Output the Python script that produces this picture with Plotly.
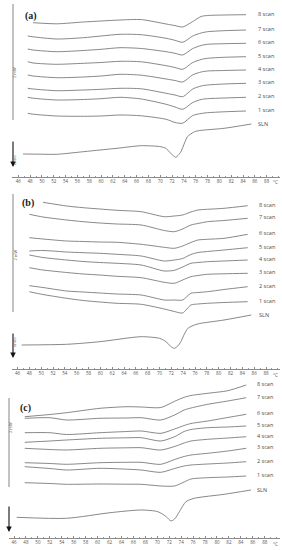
import plotly.graph_objects as go

W, H = 282, 550

TICK_VALS = [46, 48, 50, 52, 54, 56, 58, 60, 62, 64, 66, 68, 70, 72, 74, 76, 78, 80, 82, 84, 86, 88]
TICK_TEXT = ["46", "48", "50", "52", "54", "56", "58", "60", "62", "64", "66", "68",
             "70", "72", "74", "76", "78", "80", "82", "84", "86", "88"]
SCAN_LABELS = ["8 scan", "7 scan", "6 scan", "5 scan", "4 scan", "3 scan", "2 scan", "1 scan"]
PANEL_TAGS = ["(a)", "(b)", "(c)"]

# ---------------- panel (a) : temperature (°C) and heat flow (offset, arb. units)
A_T = [47.6, 48.5, 52.5, 57.0, 60.0, 63.2, 66.8, 71.0, 72.5, 73.8, 75.5, 76.9, 78.0, 80.8, 84.5]
A_8 = [None, 154.3, 153.2, 155, 156, 157, 157.4, 153, 151.4, 150, 155.5, 160.5, 161.5, 162, 162.3]
A_7 = [141, 140.2, 138, 139.3, 141, 142.7, 142.3, 138.7, 136.7, 134.7, 141, 144, 145.3, 146.3, 147]
A_6 = [128, 127, 125.3, 126.5, 127.7, 129.3, 128.5, 125.3, 123.7, 122, 128.5, 131.5, 132.7, 133.3, 133.7]
A_5 = [115.3, 114, 112.7, 113.7, 114.5, 115.7, 115.2, 111.3, 109.5, 107.7, 114.5, 117.5, 118.7, 119.7, 120.3]
A_4 = [102, 101, 99.3, 100, 101, 102.7, 101.8, 98, 96.5, 95, 102.2, 105, 106, 106.5, 107]
A_3 = [88.7, 88, 86.3, 87, 87.7, 88.7, 88.2, 83.7, 82, 80.3, 88, 91, 92, 93, 93.7]
A_2 = [79.7, 78.8, 77, 77.5, 78.3, 79.7, 78, 72.7, 70, 67.7, 74.5, 77.5, 78.3, 79, 79.7]
A_1 = [63.7, 62.8, 61, 60.7, 61, 62, 61.2, 57.7, 54.5, 53.8, 61.5, 63.5, 64.3, 65.2, 66]
A_SLN_T = [46.8, 49.7, 52.5, 57.0, 59.8, 62.7, 66.8, 70.1, 71.0, 71.5, 72.1, 72.6, 73.0, 73.5,
           74.1, 74.6, 75.8, 76.7, 80.8, 85.4]
A_SLN = [23, 22.8, 22.7, 25.3, 27, 28.7, 31.3, 30.3, 28.5, 25.3, 22, 19.7, 21.5, 25.3,
         34, 40.3, 45.3, 46.5, 48.7, 53]

# ---------------- panel (b)
B_T = [48.0, 50.3, 54.3, 57.1, 59.9, 62.8, 66.9, 70.8, 72.5, 73.9, 75.3, 76.5, 78.1, 80.9, 84.9]
B_8 = [None, 166.7, 163, 161.3, 160, 158.7, 157.3, 152.3, 153, 154, 157, 159, 159.7, 160.7, 163.3]
B_7 = [154.7, 152, 149, 147.3, 146, 145, 144, 138.5, 137.3, 140, 144, 145.5, 147.3, 148.5, 150.7]
B_6 = [131.3, 130, 128, 127.5, 127, 126.7, 124.7, 121.7, 120.7, 123, 126.5, 129, 129.7, 130.7, 134.7]
B_5 = [118, 118.5, 117, 116.3, 115.7, 114.7, 113, 108, 109, 110.5, 114.5, 116.5, 117.5, 119, 121.3]
B_4 = [114, 111.5, 109, 107.5, 106.5, 105.7, 104, 98, 98.7, 102, 105.7, 106.5, 107.3, 108, 109]
B_3 = [101.3, 99, 96.5, 95, 94, 92.7, 91.3, 86.7, 85.7, 89, 92.3, 93.5, 94.7, 95.2, 95.7]
B_2 = [83.3, 81.5, 78, 77, 76, 75, 74, 69, 69, 69, 75.7, 76.5, 77.3, 79.5, 82.3]
B_1 = [77.3, 74.5, 70.7, 68.5, 67, 65.7, 64.7, 60, 57.5, 56, 64, 65, 65.7, 66.5, 67.3]
B_SLN_T = [46.7, 54.3, 59.9, 66.9, 70.0, 70.8, 71.4, 71.9, 72.5, 73.1, 73.6, 74.2, 74.8,
           75.9, 76.8, 80.9, 85.5]
B_SLN = [24, 24.7, 27.3, 32.3, 30.7, 28.5, 25.7, 22.5, 20.7, 23, 27.3, 35, 40.7,
         44, 45.5, 49, 54]

# ---------------- panel (c)
C_T = [47.8, 52.0, 54.8, 60.4, 64.9, 67.3, 70.6, 72.9, 74.5, 75.65, 78.45, 81.8, 84.9]
C_8 = [121.3, 123.5, 125.3, 129.7, 131.3, 131, 130.5, 136.7, 140.7, 142.5, 144.7, 147.3, 153]
C_7 = [119.7, 120.3, 118, 119.7, 120, 120.3, 118, 123, 128, 130, 133.7, 137, 140.3]
C_6 = [105.3, 105.3, 103.5, 105.3, 106.5, 107, 104.7, 109, 112.5, 114.5, 117, 120.5, 123.7]
C_5 = [95.7, 97, 98, 99.7, 100.2, 100.3, 97, 101.3, 106.5, 108.5, 110.3, 111, 112]
C_4 = [89.7, 88.5, 88, 89.7, 90.2, 90.3, 88, 91.5, 95, 97, 98.7, 100, 101.3]
C_3 = [75.3, 74.5, 73.7, 75.3, 75.7, 75.7, 73.7, 78.5, 81.5, 83, 84.7, 87, 89.7]
C_2 = [71.3, 69.5, 68, 69.7, 68.8, 68, 65.7, 69.5, 72, 73, 74, 75, 76.3]
C_1 = [55.3, 54.5, 53.7, 54, 53.8, 53.7, 52, 52, 56, 59, 60.3, 61, 62]
C_SLN_T = [46.45, 54.8, 62.1, 67.3, 70.1, 71.5, 72.3, 72.9, 73.7, 74.8, 76.2, 81.2, 85.7]
C_SLN = [20.7, 19.7, 25.3, 28, 26.3, 21.3, 17, 19, 26.3, 36.3, 39.7, 43.7, 48]

LINE = "#6a6a6a"
TXT = "#4a4a4a"


def py(px):
    return 1 - px / H


def pxx(px):
    return px / W


panels = [
    dict(T=A_T, scans=[A_8, A_7, A_6, A_5, A_4, A_3, A_2, A_1], sT=A_SLN_T, s=A_SLN,
         xr=[44.935, 90.25], xd=[12, 280], yd=[0, 177], lab_x=256, tag=(31, 16),
         bar=(13, 4, 120), mw=(10, 65), arr=(13, 140, 167), endo=(9.5, 153)),
    dict(T=B_T, scans=[B_8, B_7, B_6, B_5, B_4, B_3, B_2, B_1], sT=B_SLN_T, s=B_SLN,
         xr=[45.07, 90.36], xd=[12, 280], yd=[185, 369], lab_x=257, tag=(28, 203),
         bar=(13, 194, 312), mw=(10, 255), arr=(13, 332, 358), endo=(9.5, 342)),
    dict(T=C_T, scans=[C_8, C_7, C_6, C_5, C_4, C_3, C_2, C_1], sT=C_SLN_T, s=C_SLN,
         xr=[45.16, 90.56], xd=[9, 280], yd=[380, 538], lab_x=254.5, tag=(25, 408),
         bar=(9, 398, 487), mw=(6, 435), arr=(9, 505, 532), endo=None),
]

fig = go.Figure()
layout = {}
shapes = []
annotations = []

for i, p in enumerate(panels):
    n = "" if i == 0 else str(i + 1)
    xa, ya = "x" + n, "y" + n
    line_style = dict(color=LINE, width=0.8, shape="spline", smoothing=0.7)
    for name, vals in zip(SCAN_LABELS, p["scans"]):
        fig.add_trace(go.Scatter(x=p["T"], y=vals, mode="lines", line=line_style,
                                 xaxis=xa, yaxis=ya, showlegend=False, hoverinfo="skip"))
        annotations.append(dict(x=pxx(p["lab_x"]), xref="paper", y=vals[-1] + 1, yref=ya,
                                text=name, showarrow=False, xanchor="left", yanchor="middle",
                                font=dict(size=5.5, color=TXT, family="Open Sans")))
    fig.add_trace(go.Scatter(x=p["sT"], y=p["s"], mode="lines", line=line_style,
                             xaxis=xa, yaxis=ya, showlegend=False, hoverinfo="skip"))
    annotations.append(dict(x=pxx(p["lab_x"]), xref="paper", y=p["s"][-1] + 0.5, yref=ya,
                            text="SLN", showarrow=False, xanchor="left", yanchor="middle",
                            font=dict(size=5.5, color=TXT, family="Open Sans")))

    y0, y1 = p["yd"]
    layout["xaxis" + n] = dict(
        domain=[pxx(p["xd"][0]), pxx(p["xd"][1])], range=p["xr"], anchor=ya,
        showline=True, linecolor="#8a8a8a", linewidth=0.8, showgrid=False, zeroline=False,
        tickmode="array", tickvals=TICK_VALS, ticktext=TICK_TEXT,
        ticks="inside", ticklen=2.5, tickwidth=0.6, tickcolor="#8a8a8a",
        minor=dict(dtick=1, ticks="inside", ticklen=1.5, tickwidth=0.5, tickcolor="#9a9a9a"),
        tickfont=dict(size=4.5, color="#555555", family="Open Sans"), fixedrange=True)
    layout["yaxis" + n] = dict(domain=[py(y1), py(y0)], range=[0, y1 - y0], visible=False,
                               fixedrange=True)

    # degree label at axis end
    annotations.append(dict(x=pxx(275.5), xref="paper", y=py(y1 + 5.5), yref="paper",
                            text="°C", showarrow=False, xanchor="center", yanchor="middle",
                            font=dict(size=4.5, color="#555555", family="Open Sans")))
    # panel tag
    annotations.append(dict(x=pxx(p["tag"][0]), xref="paper", y=py(p["tag"][1]), yref="paper",
                            text="<b>" + PANEL_TAGS[i] + "</b>", showarrow=False,
                            xanchor="center", yanchor="middle",
                            font=dict(size=10, color="#222222", family="Liberation Serif")))
    # 2 mW scale bar
    bx, by0, by1 = p["bar"]
    shapes.append(dict(type="line", xref="paper", yref="paper", x0=pxx(bx), x1=pxx(bx),
                       y0=py(by0), y1=py(by1), line=dict(color="#777777", width=0.9)))
    annotations.append(dict(x=pxx(p["mw"][0]), xref="paper", y=py(p["mw"][1]), yref="paper",
                            text="2 mW", textangle=-90, showarrow=False,
                            font=dict(size=4, color="#555555", family="Open Sans")))
    # endo arrow
    ax_, ay0, ay1 = p["arr"]
    annotations.append(dict(x=pxx(ax_), xref="paper", y=py(ay1), yref="paper", text="",
                            showarrow=True, arrowhead=2, arrowsize=1, arrowwidth=1.1,
                            arrowcolor="#111111", ax=0, ay=-(ay1 - ay0), axref="pixel",
                            ayref="pixel"))
    if p["endo"] is not None:
        annotations.append(dict(x=pxx(p["endo"][0]), xref="paper", y=py(p["endo"][1]),
                                yref="paper", text="endo", textangle=-90, showarrow=False,
                                font=dict(size=4, color="#555555", family="Open Sans")))

fig.update_layout(width=W, height=H, margin=dict(l=0, r=0, t=0, b=0),
                  paper_bgcolor="white", plot_bgcolor="white",
                  shapes=shapes, annotations=annotations, **layout)

fig.write_html("out.html", config={"displayModeBar": False},
               post_script="document.body.style.margin='0';document.body.style.overflow='hidden';")
